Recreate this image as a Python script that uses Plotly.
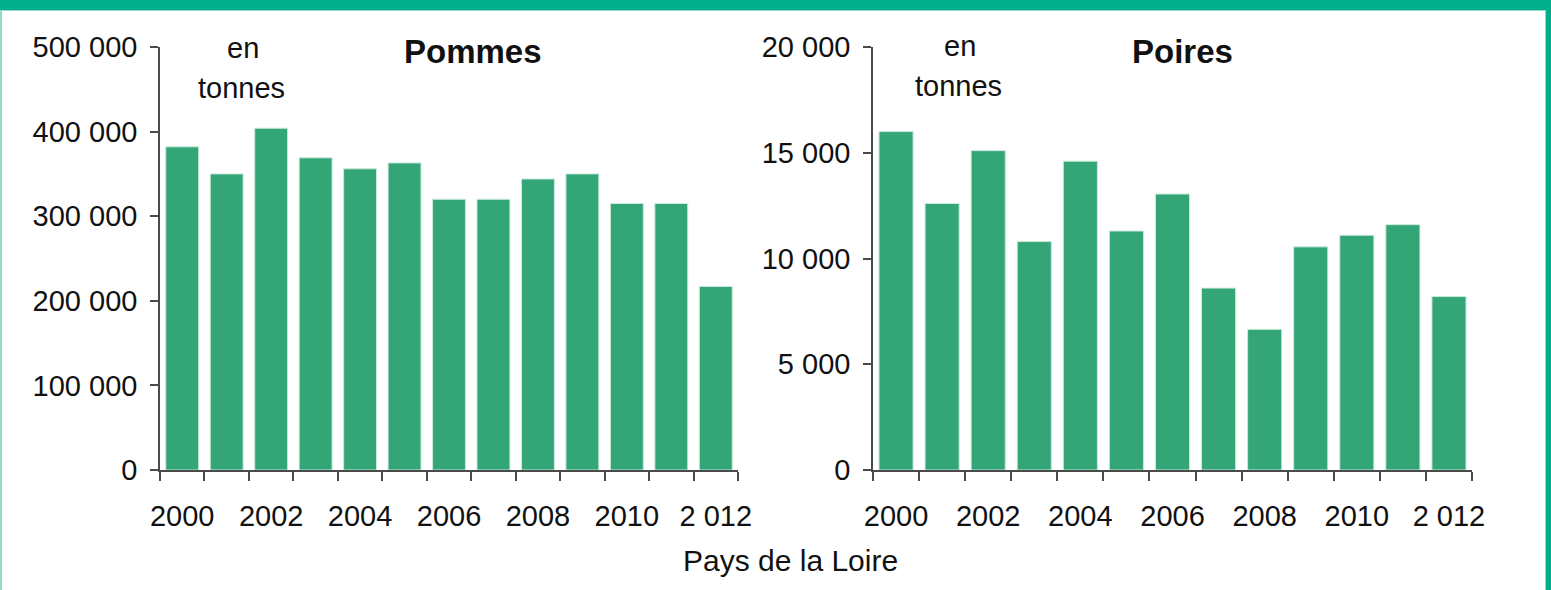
import plotly.graph_objects as go

W, H = 1551, 590

years = [str(y) for y in range(2000, 2013)]
year_labels = ["2000", "", "2002", "", "2004", "", "2006", "", "2008", "", "2010", "", "2 012"]

pommes = [382000, 350000, 404000, 369000, 356000, 363000, 320000, 320000, 344000, 350000, 315000, 315000, 217000]
poires = [16000, 12600, 15100, 10800, 14600, 11300, 13050, 8600, 6650, 10550, 11100, 11600, 8200]

pommes_ticks = [0, 100000, 200000, 300000, 400000, 500000]
pommes_ticktext = ["0", "100 000", "200 000", "300 000", "400 000", "500 000"]
poires_ticks = [0, 5000, 10000, 15000, 20000]
poires_ticktext = ["0", "5 000", "10 000", "15 000", "20 000"]

BAR = "#33a577"
EDGE = "#c9eadc"
AX = "#4a4a4a"
TEAL = "#02ae8c"
FONT = "Liberation Sans, Arial, sans-serif"
TXT = "#111111"


def px(x):
    return x / W


def py(y):
    return 1 - y / H


fig = go.Figure()
fig.add_trace(go.Bar(x=years, y=pommes, marker=dict(color=BAR, line=dict(color=EDGE, width=1)),
                     xaxis="x", yaxis="y", showlegend=False))
fig.add_trace(go.Bar(x=years, y=poires, marker=dict(color=BAR, line=dict(color=EDGE, width=1)),
                     xaxis="x2", yaxis="y2", showlegend=False))

ydom = [py(470), py(47)]
common_x = dict(type="category", tickson="boundaries", ticks="outside", ticklen=9, tickwidth=1.5,
                tickcolor=AX, showline=True, linecolor=AX, linewidth=1.5, showgrid=False,
                zeroline=False, tickvals=years, ticktext=year_labels, tickangle=0, automargin=False,
                tickfont=dict(family=FONT, size=29, color=TXT), ticklabelstandoff=19)
common_y = dict(ticks="outside", ticklen=8, tickwidth=1.5, tickcolor=AX, showline=True,
                linecolor=AX, linewidth=1.5, showgrid=False, zeroline=False, automargin=False,
                tickfont=dict(family=FONT, size=29, color=TXT), ticklabelstandoff=7, domain=ydom)

fig.update_layout(
    width=W, height=H,
    margin=dict(l=0, r=0, t=0, b=0, pad=0, autoexpand=False),
    paper_bgcolor="white", plot_bgcolor="white",
    bargap=0.26,
    xaxis=dict(domain=[px(160), px(738)], anchor="y", range=[-0.5, 12.5], **common_x),
    xaxis2=dict(domain=[px(873), px(1472)], anchor="y2", range=[-0.5, 12.5], **common_x),
    yaxis=dict(anchor="x", range=[0, 500000], tickvals=pommes_ticks, ticktext=pommes_ticktext, **common_y),
    yaxis2=dict(anchor="x2", range=[0, 20000], tickvals=poires_ticks, ticktext=poires_ticktext, **common_y),
)

ann = [
    ("en", 243, 48, False, 29),
    ("tonnes", 241, 88, False, 29),
    ("en", 960, 46, False, 29),
    ("tonnes", 958, 86, False, 29),
    ("Pommes", 473, 52, True, 33),
    ("Poires", 1182, 52, True, 33),
    ("Pays de la Loire", 790, 560, False, 30),
]
for text, x, y, bold, size in ann:
    fig.add_annotation(text=f"<b>{text}</b>" if bold else text, xref="paper", yref="paper",
                       x=px(x), y=py(y), xanchor="center", yanchor="middle", showarrow=False,
                       font=dict(family=FONT, size=size, color=TXT))

# frame
LIGHT = "#8fdcca"
fig.add_shape(type="rect", xref="paper", yref="paper", x0=0, x1=1, y0=py(10), y1=1,
              fillcolor=TEAL, line=dict(width=0), layer="above")
fig.add_shape(type="rect", xref="paper", yref="paper", x0=0, x1=1, y0=py(11), y1=py(10),
              fillcolor=LIGHT, line=dict(width=0), layer="above")
fig.add_shape(type="rect", xref="paper", yref="paper", x0=px(1546), x1=1, y0=0, y1=1,
              fillcolor=TEAL, line=dict(width=0), layer="above")
fig.add_shape(type="rect", xref="paper", yref="paper", x0=px(1545), x1=px(1546), y0=0, y1=py(10),
              fillcolor=LIGHT, line=dict(width=0), layer="above")
fig.add_shape(type="rect", xref="paper", yref="paper", x0=0, x1=px(2), y0=0, y1=py(10),
              fillcolor=LIGHT, line=dict(width=0), layer="above")

post = (
    "document.documentElement.style.margin='0';document.body.style.margin='0';"
    "document.documentElement.style.overflow='hidden';document.body.style.overflow='hidden';"
    "var d=document.getElementById('{plot_id}');d.style.position='fixed';"
    "d.style.left='0px';d.style.top='0px';"
)
fig.write_html("out.html", config={"displayModeBar": False}, post_script=post)
